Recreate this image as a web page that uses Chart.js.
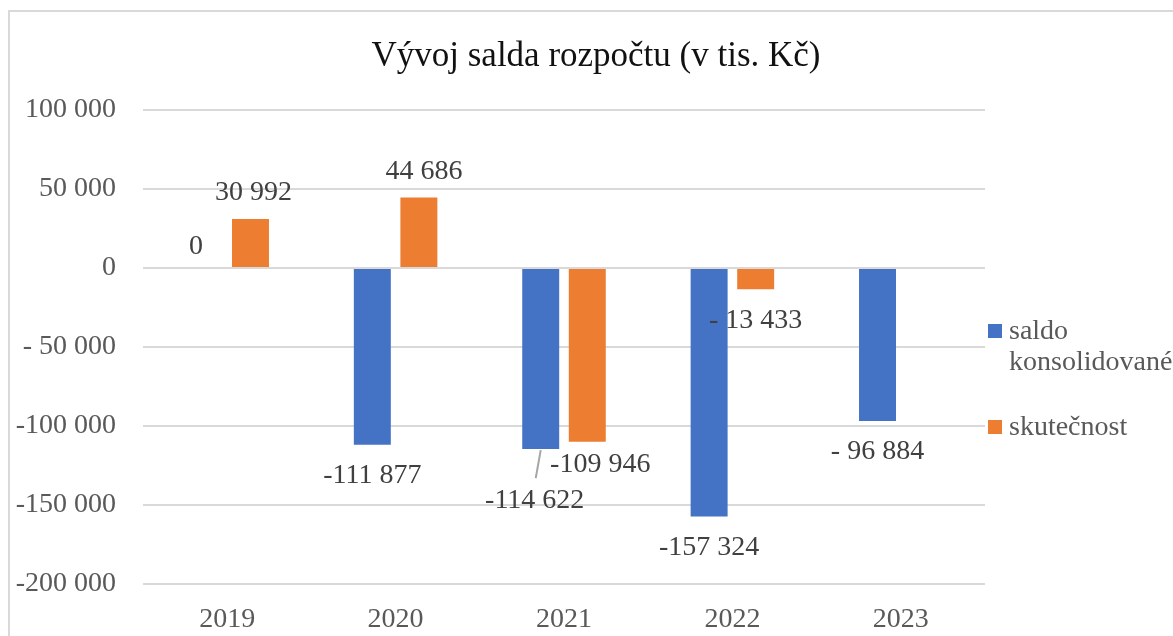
<!DOCTYPE html>
<html lang="cs">
<head>
  <meta charset="utf-8" />
  <title>Vývoj salda rozpočtu</title>
  <script src="https://cdn.jsdelivr.net/npm/chart.js"></script>
  <style>
    html, body { margin: 0; padding: 0; background: #fff; overflow: hidden; }
    #chart-container { position: relative; width: 1173px; height: 636px; }
  </style>
</head>
<body>
  <div id="chart-container">
    <canvas id="saldoChart"></canvas>
  </div>

  <script>
    const chartTitle = 'Vývoj salda rozpočtu (v tis. Kč)';
    const years = ['2019', '2020', '2021', '2022', '2023'];
    const seriesNames = ['saldo konsolidované', 'skutečnost'];
    const saldoKonsolidovane = [0, -111877, -114622, -157324, -96884];
    const skutecnost = [30992, 44686, -109946, -13433, null];
    const yMin = -200000, yMax = 100000, yStep = 50000;

    const BLUE = '#4472C4', ORANGE = '#ED7D31';
    const SERIF = '"Liberation Serif", "Times New Roman", serif';

    // label nudges (Excel had some labels moved by hand)
    const labelShifts = {
      0: { 0: { dx: -8, dy: -21 }, 2: { dx: -6, dy: 52, leader: true } },
      1: { 0: { dx: 3 }, 1: { dx: 5 }, 2: { dx: 13, dy: 23 } }
    };

    // "# ##0" with the odd excel padding: "- 50 000" but "-100 000"
    function fmt(v) {
      const a = Math.abs(v);
      const s = String(a).replace(/\B(?=(\d{3})+(?!\d))/g, ' ');
      if (v < 0) return (a < 100000 ? '- ' : '-') + s;
      return s;
    }

    const frame = {
      id: 'frame',
      beforeDraw(chart) {
        const c = chart.ctx;
        c.save();
        c.fillStyle = '#fff';
        c.fillRect(0, 0, chart.width, chart.height);
        c.strokeStyle = '#d9d9d9';
        c.lineWidth = 2;
        c.strokeRect(9, 11, chart.width + 20, chart.height + 20);
        c.restore();
      }
    };

    const valueLabels = {
      id: 'valueLabels',
      afterDatasetsDraw(chart) {
        const c = chart.ctx;
        c.save();
        c.font = '28px ' + SERIF;
        c.textAlign = 'center';
        c.textBaseline = 'middle';
        chart.data.datasets.forEach((ds, di) => {
          chart.getDatasetMeta(di).data.forEach((bar, i) => {
            const v = ds.data[i];
            if (v === null || v === undefined) return;
            const sh = (labelShifts[di] && labelShifts[di][i]) || {};
            const dy = sh.dy !== undefined ? sh.dy : (v >= 0 ? -26 : 31);
            const x = bar.x + (sh.dx || 0);
            const y = bar.y + dy;
            if (sh.leader) {
              c.strokeStyle = '#a6a6a6';
              c.lineWidth = 2;
              c.beginPath();
              c.moveTo(bar.x, bar.y + 1);
              c.lineTo(x + 1, y - 23);
              c.stroke();
            }
            c.fillStyle = '#404040';
            c.fillText(fmt(v), x, y);
          });
        });
        c.restore();
      }
    };

    const titleAndLegend = {
      id: 'titleAndLegend',
      afterDraw(chart) {
        const c = chart.ctx;
        c.save();
        c.fillStyle = '#111';
        c.font = '35px ' + SERIF;
        c.textAlign = 'center';
        c.textBaseline = 'middle';
        c.fillText(chartTitle, 596, 57);

        c.font = '28px ' + SERIF;
        c.textAlign = 'left';
        const colors = [BLUE, ORANGE];
        let y = 332;
        seriesNames.forEach((name, k) => {
          // wrap words that do not fit next to the plot
          const words = name.split(' ');
          const lines = [];
          let cur = '';
          words.forEach(w => {
            const t = cur ? cur + ' ' + w : w;
            if (cur && c.measureText(t).width > 170) { lines.push(cur); cur = w; }
            else cur = t;
          });
          lines.push(cur);
          c.fillStyle = colors[k];
          c.fillRect(988, y - 8, 14, 14);
          c.fillStyle = '#595959';
          lines.forEach((ln, j) => c.fillText(ln, 1009, y + j * 31));
          y += (lines.length - 1) * 31 + 65;
        });
        c.restore();
      }
    };

    new Chart(document.getElementById('saldoChart'), {
      type: 'bar',
      data: {
        labels: years,
        datasets: [
          { label: seriesNames[0], data: saldoKonsolidovane, backgroundColor: BLUE,
            categoryPercentage: 0.553, barPercentage: 0.794 },
          { label: seriesNames[1], data: skutecnost, backgroundColor: ORANGE,
            categoryPercentage: 0.553, barPercentage: 0.794 }
        ]
      },
      options: {
        responsive: true,
        maintainAspectRatio: false,
        animation: false,
        layout: { padding: { top: 110, right: 188, bottom: 0, left: 0 } },
        plugins: {
          legend: { display: false },
          title: { display: false },
          tooltip: { enabled: false }
        },
        scales: {
          x: {
            grid: { display: false },
            border: { display: false },
            ticks: { color: '#595959', font: { family: SERIF, size: 28 }, padding: 11 },
            afterFit(s) { s.height = 52; }
          },
          y: {
            min: yMin,
            max: yMax,
            grid: { color: '#d9d9d9', lineWidth: 2, drawTicks: false },
            border: { display: false },
            ticks: {
              stepSize: yStep,
              color: '#595959',
              font: { family: SERIF, size: 28 },
              padding: 27,
              callback: v => fmt(v)
            },
            afterFit(s) { s.width = 143; }
          }
        }
      },
      plugins: [frame, valueLabels, titleAndLegend]
    });
  </script>
</body>
</html>
